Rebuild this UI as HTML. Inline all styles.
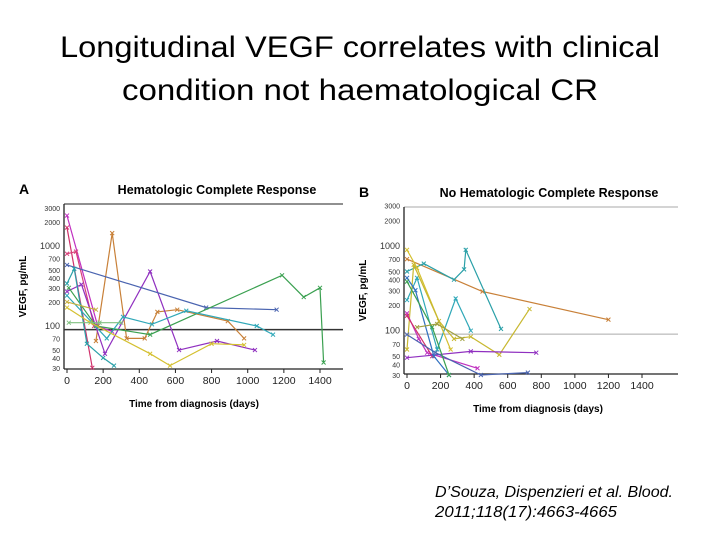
<!DOCTYPE html>
<html><head><meta charset="utf-8"><style>
html,body{margin:0;padding:0;background:#fff;width:720px;height:540px;overflow:hidden}
svg{display:block;font-family:"Liberation Sans",Arial,sans-serif}
</style></head><body>
<svg id="s" width="720" height="540" viewBox="0 0 720 540">
<text x="360" y="57" text-anchor="middle" font-size="30" textLength="600" lengthAdjust="spacingAndGlyphs">Longitudinal VEGF correlates with clinical</text>
<text x="360" y="100" text-anchor="middle" font-size="30" textLength="476" lengthAdjust="spacingAndGlyphs">condition not haematological CR</text>
<text x="435" y="497" font-size="16" font-style="italic" textLength="238" lengthAdjust="spacingAndGlyphs">D’Souza, Dispenzieri et al. Blood.</text>
<text x="435" y="517" font-size="16" font-style="italic" textLength="182" lengthAdjust="spacingAndGlyphs">2011;118(17):4663-4665</text>
<g id="pa"></g>
<g id="pb"></g>
</svg>
<script>
const xTicks=[0,200,400,600,800,1000,1200,1400];
const yTicks=[30,40,50,70,100,200,300,400,500,700,1000,2000,3000];
const yTickLabels=["30","40","50","70","100","200","300","400","500","700","1000","2000","3000"];
const colorsA=["#c030c0","#d0306a","#d8407a","#c88038","#9030c0","#4a64b0","#3aa050","#2aa0a8","#30a8b8","#d4c030","#80c080","#c8b040"];
const seriesA=[
[[0,2400],[170,100],[250,85]],
[[0,1700],[140,30]],
[[0,800],[50,850],[150,100]],
[[160,65],[250,1450],[330,70],[430,70],[500,150],[610,160],[890,115],[980,70]],
[[0,270],[80,330],[210,45],[460,480],[620,50],[830,65],[1040,50]],
[[0,580],[770,170],[1160,160]],
[[10,300],[160,100],[460,78],[1190,430],[1310,230],[1400,300],[1420,35]],
[[0,340],[40,520],[110,60],[200,40],[260,32]],
[[0,240],[220,70],[310,130],[470,105],[660,155],[1050,100],[1140,78]],
[[0,170],[130,110],[460,45],[570,32],[800,60],[980,58]],
[[10,110],[180,110],[300,110]],
[[0,200],[160,160]]
];
const colorsB=["#c88038","#2aa0a8","#30a8b8","#d4c030","#c8b830","#c030c0","#d0306a","#9030c0","#4a64b0","#3070c0","#3aa050","#a0a040"];
const seriesB=[
[[0,700],[450,290],[1200,135]],
[[0,500],[100,620],[280,400],[340,530],[350,900],[560,105]],
[[0,230],[60,420],[180,60],[290,240],[380,100]],
[[0,900],[60,550],[260,60]],
[[0,60],[40,600],[190,130],[280,80],[380,85],[550,52],[730,180]],
[[0,160],[70,80],[120,55],[420,36]],
[[0,150],[150,50]],
[[0,48],[380,57],[770,55]],
[[0,90],[170,55],[440,30],[720,32]],
[[0,420],[50,300],[160,50],[250,30]],
[[0,380],[150,110],[250,30]],
[[60,110],[180,120],[330,80]]
];
const refA=90, refB=91;
const NS="http://www.w3.org/2000/svg";
function mk(p,t,a){const e=document.createElementNS(NS,t);for(const k in a)e.setAttribute(k,a[k]);p.appendChild(e);return e;}
function panel(g,cfg,series,colors,ref,letter,title){
 const xs=d=>cfg.x0+d*(cfg.x1400-cfg.x0)/1400;
 const ys=v=>cfg.y1000+cfg.dec*Math.log10(1000/v);
 let t=mk(g,'text',{x:cfg.L-45,y:cfg.top-10,'font-size':14,'font-weight':'bold'});t.textContent=letter;
 
 t=mk(g,'text',{x:cfg.titleX,y:cfg.top-10,'font-size':12.5,'font-weight':'bold','text-anchor':'middle'});t.textContent=title;
 
 let l=mk(g,'line',{x1:cfg.L,x2:cfg.R,y1:cfg.top,y2:cfg.top,stroke:cfg.topCol,'stroke-width':1});
 
 l=mk(g,'line',{x1:cfg.L,x2:cfg.L,y1:cfg.top,y2:cfg.bot,stroke:'#222','stroke-width':1.3});
 
 l=mk(g,'line',{x1:cfg.L,x2:cfg.R,y1:cfg.bot,y2:cfg.bot,stroke:'#222','stroke-width':1.3});
 
 l=mk(g,'line',{x1:cfg.L,x2:cfg.R,y1:ys(ref),y2:ys(ref),stroke:cfg.refCol,'stroke-width':cfg.refW});
 
 xTicks.forEach(d=>{
  const x=xs(d);
  let tk=mk(g,'line',{x1:x,x2:x,y1:cfg.bot,y2:cfg.bot+4,stroke:'#222'});
  
  let tx=mk(g,'text',{x:x,y:cfg.bot+15,'font-size':10.5,'text-anchor':'middle',fill:'#222'});tx.textContent=d;
  
 });
 yTicks.forEach((v,i)=>{
  const y=ys(v);
  let tx=mk(g,'text',{x:cfg.L-4,y:y+3,'font-size':[100,1000].includes(v)?9:7,'text-anchor':'end',fill:'#333'});tx.textContent=yTickLabels[i];
  
 });
 t=mk(g,'text',{transform:`translate(${cfg.L-38},${(cfg.top+cfg.bot)/2}) rotate(-90)`,'font-size':10,'font-weight':'bold','text-anchor':'middle'});t.textContent='VEGF, pg/mL';
 
 t=mk(g,'text',{x:cfg.xtX,y:cfg.bot+38,'font-size':10,'font-weight':'bold','text-anchor':'middle'});t.textContent='Time from diagnosis (days)';
 
 series.forEach((s,i)=>{
  const pts=s.map(p=>xs(p[0]).toFixed(1)+','+ys(p[1]).toFixed(1)).join(' ');
  let pl=mk(g,'polyline',{points:pts,fill:'none',stroke:colors[i],'stroke-width':1.2});
  
  s.forEach(p=>{
   const x=xs(p[0]),y=ys(p[1]);
   let m=mk(g,'path',{d:`M${x-2},${y-2}L${x+2},${y+2}M${x-2},${y+2}L${x+2},${y-2}`,stroke:colors[i],'stroke-width':1});
   
  });
 });
}
panel(document.getElementById('pa'),{L:64,R:343,top:204,bot:369,x0:67,x1400:320,y1000:246,dec:80,topCol:'#222',refCol:'#333',refW:1.5,titleX:217,xtX:194},seriesA,colorsA,refA,'A','Hematologic Complete Response');
panel(document.getElementById('pb'),{L:404,R:678,top:207,bot:374,x0:407,x1400:642,y1000:246,dec:84.7,topCol:'#aaa',refCol:'#aaa',refW:1,titleX:549,xtX:538},seriesB,colorsB,refB,'B','No Hematologic Complete Response');
</script>
</body></html>
